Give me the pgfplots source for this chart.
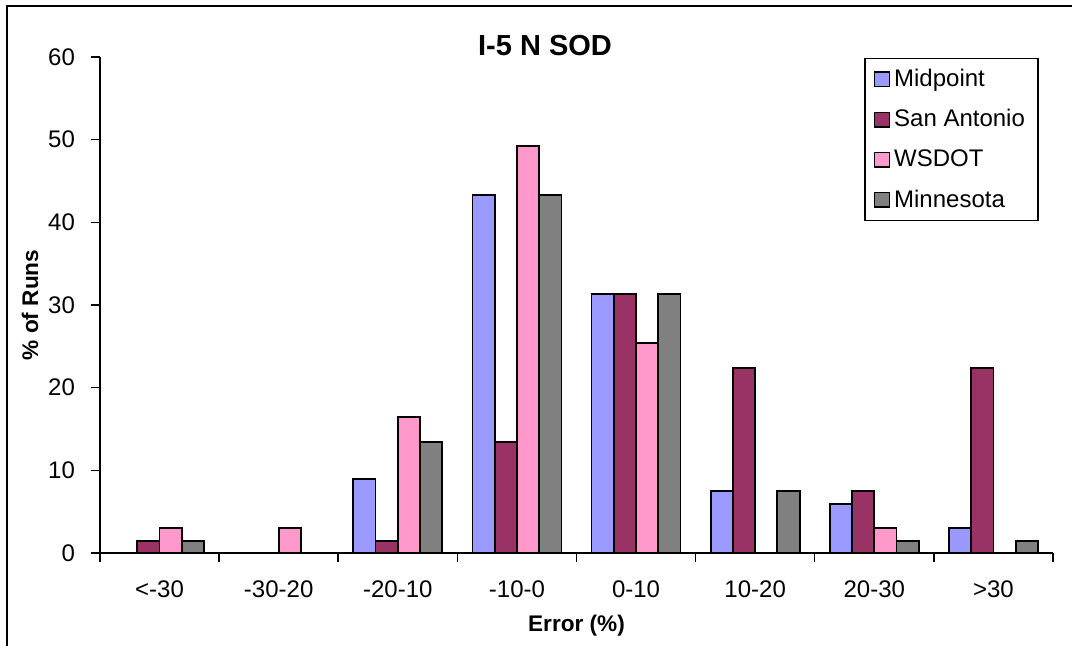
\documentclass[border=0pt]{standalone}
\usepackage{pgfplots}
\pgfplotsset{compat=1.18}
\usepackage{fontspec}
\setmainfont{Liberation Sans}
\definecolor{cMid}{HTML}{9999FF}
\definecolor{cSA}{HTML}{993366}
\definecolor{cWS}{HTML}{FF99CC}
\definecolor{cMin}{HTML}{808080}
\pgfplotsset{
  mybar/.style={ybar, bar width=0.187, draw=black, line width=0.9pt,
    legend image code/.code={\draw[##1, line width=0.8pt] (-1.5pt,-3.6pt) rectangle (5.9pt,3.6pt);}}
}
\begin{document}
\begin{tikzpicture}
\useasboundingbox (0,0) rectangle (536pt,323pt);
\draw[line width=1pt] (3.5pt,0) -- (3.5pt,320pt) -- (536pt,320pt);
\begin{axis}[
  at={(50pt,46.5pt)}, anchor=south west,
  scale only axis, width=476.5pt, height=248pt,
  xmin=0, xmax=8, ymin=0, ymax=60,
  axis lines=left, axis line style={-, line width=0.75pt},
  xtick={0.5,1.5,...,7.5},
  xticklabels={<-30,-30-20,-20-10,-10-0,0-10,10-20,20-30,>30},
  minor xtick={0,1,...,8},
  ytick={0,10,...,60},
  tick align=outside, major tick length=4.5pt, minor tick length=4.5pt,
  major x tick style={draw=none},
  every tick/.style={black, line width=0.75pt},
  minor tick style={black, line width=0.75pt},
  /pgf/number format/assume math mode=true,
  ticklabel style={font=\fontsize{12}{14}\selectfont},
  xticklabel style={yshift=-6pt},
  yticklabel shift=4.5pt,
  ylabel={\textbf{\% of Runs}},
  xlabel={\textbf{Error (\%)}},
  label style={font=\fontsize{11.3}{13}\selectfont},
  ylabel style={at={(axis description cs:-0.0734,0.5)}, anchor=center},
  xlabel style={at={(axis description cs:0.5,-0.147)}, anchor=center},
  legend style={at={(rel axis cs:0.8017,0.998)}, anchor=north west,
    draw=black, line width=0.75pt, font=\fontsize{12}{14}\selectfont,
    row sep=6pt, inner xsep=4.5pt, inner ysep=3.2pt},
  legend cell align=left,
  clip=false,
]
\addplot[mybar, fill=cMid, bar shift=-0.28] coordinates {(2.5,8.96) (3.5,43.28) (4.5,31.34) (5.5,7.46) (6.5,5.97) (7.5,2.99)};
\addlegendentry{Midpoint}
\addplot[mybar, fill=cSA, bar shift=-0.0935] coordinates {(0.5,1.49) (2.5,1.49) (3.5,13.43) (4.5,31.34) (5.5,22.39) (6.5,7.46) (7.5,22.39)};
\addlegendentry{San Antonio}
\addplot[mybar, fill=cWS, bar shift=0.0935] coordinates {(0.5,2.99) (1.5,2.99) (2.5,16.42) (3.5,49.25) (4.5,25.37) (6.5,2.99)};
\addlegendentry{WSDOT}
\addplot[mybar, fill=cMin, bar shift=0.28] coordinates {(0.5,1.49) (2.5,13.43) (3.5,43.28) (4.5,31.34) (5.5,7.46) (6.5,1.49) (7.5,1.49)};
\addlegendentry{Minnesota}
\end{axis}
\node[font=\bfseries\fontsize{14.5}{17}\selectfont, anchor=center] at (272.5pt,300.3pt) {I-5 N SOD};
\end{tikzpicture}
\end{document}
